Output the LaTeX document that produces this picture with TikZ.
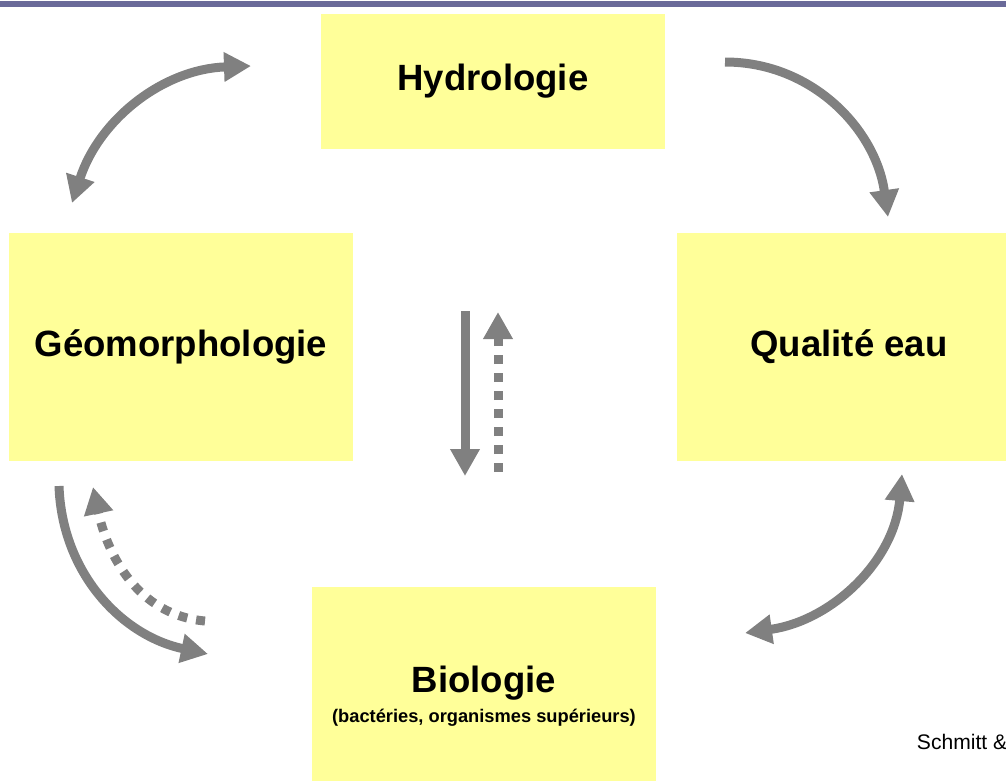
\documentclass[tikz,border=0pt]{standalone}
\usepackage{fontspec}
\setmainfont{Liberation Sans}
\usetikzlibrary{arrows.meta,positioning}
\definecolor{boxyellow}{HTML}{FFFF99}
\definecolor{arrgray}{HTML}{808080}
\definecolor{barblue}{HTML}{6A6A99}

\begin{document}
\begin{tikzpicture}[
  box/.style={fill=boxyellow, minimum width=8.6cm, minimum height=5.7cm, inner sep=0pt,
              align=center, font=\bfseries\fontsize{26}{31}\selectfont},
  arr/.style={-{Triangle[width=0.7cm,length=0.675cm]}, line width=0.225cm, arrgray},
  darr/.style={arr, {Triangle[width=0.7cm,length=0.675cm]}-{Triangle[width=0.7cm,length=0.675cm]}},
  dotarr/.style={arr, dash pattern=on 0.225cm off 0.225cm}]
\useasboundingbox (0,0) rectangle (25.15,-19.5);
\clip (0,0) rectangle (25.15,-19.5);
\fill[barblue] (0,-0.03) rectangle (25.15,-0.175);

\node[box, minimum height=3.375cm] (hydro) at (12.325,-2.0375) {Hydrologie};
\node[box] (geo) at (4.525,-8.675) {Géomorphologie};
\node[box] (qual) at (21.225,-8.675) {Qualité eau};
\node[box, minimum height=5.45cm] (bio) at (12.1,-17.4) {Biologie\\[-10pt]{\fontsize{13}{16}\selectfont (bactéries, organismes supérieurs)}};
\node[anchor=base west, font=\fontsize{15}{18}\selectfont] (src) at (22.8,-18.725) {Schmitt \&};

% arrow ends
\coordinate (hg1) at (1.8,-5.075);    \coordinate (hg2) at (6.275,-1.65);
\coordinate (hq1) at (18.125,-1.55);  \coordinate (hq2) at (22.2,-5.425);
\coordinate (qb1) at (18.625,-15.825);\coordinate (qb2) at (22.55,-11.85);
\coordinate (gb1) at (1.475,-12.15);  \coordinate (gb2) at (5.2,-16.35);
\coordinate (bg1) at (5.125,-15.525); \coordinate (bg2) at (2.325,-12.175);
\coordinate (c1) at (11.625,-7.775);  \coordinate (c2) at (11.625,-11.9);
\coordinate (c3) at (12.45,-11.8);    \coordinate (c4) at (12.45,-7.8);

\draw[darr] (hg1) to[out=72,in=182] (hg2);
\draw[arr] (hq1) to[out=0,in=98] (hq2);
\draw[darr] (qb1) to[out=8,in=265] (qb2);
\draw[arr] (gb1) to[out=-88,in=168] (gb2);
\draw[dotarr] (bg1) to[out=175,in=-78] (bg2);
\draw[arr] (c1) -- (c2);
\draw[dotarr] (c3) -- (c4);
\end{tikzpicture}
\end{document}
